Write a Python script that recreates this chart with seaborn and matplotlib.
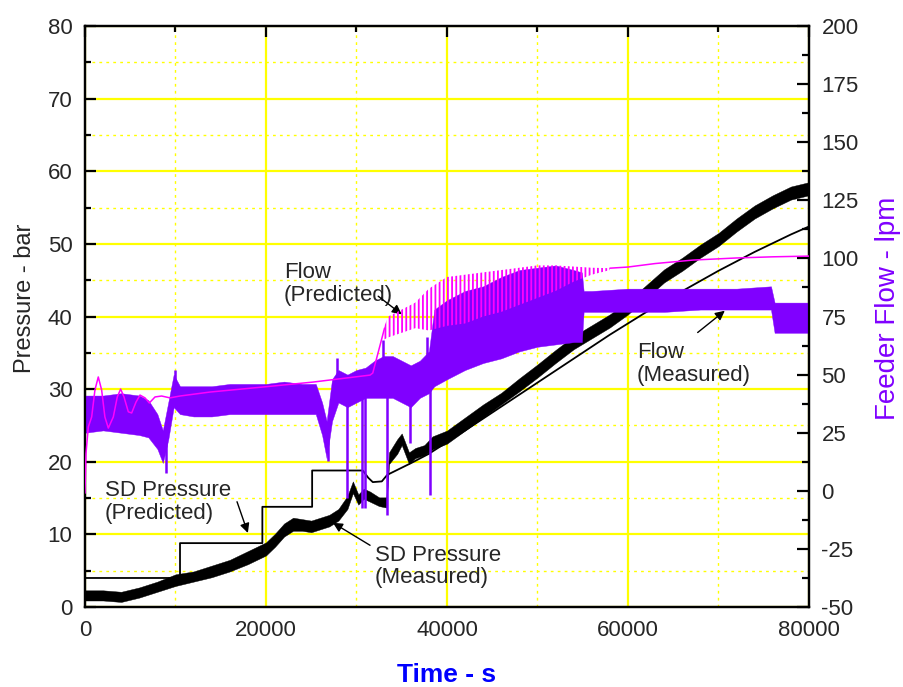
import numpy as np
import pandas as pd
import matplotlib
matplotlib.use("Agg")
import matplotlib.pyplot as plt
from matplotlib.ticker import MultipleLocator
import seaborn as sns

# ---------------- data ----------------
# Measured SD pressure (bar): noisy band, lower / upper envelope
mp_t = [0, 2000, 4000, 6000, 8000, 10000, 12000, 14000, 16000, 18000, 20000,
        21000, 22000, 23000, 24000, 25000, 26000, 27000, 28000, 29000, 29600,
        30200, 30800, 31500, 32500, 33300, 33600, 34500, 35000, 35800, 36500,
        37500, 38400, 40000, 42000, 44000, 46000, 48000, 50000, 52000, 54000,
        56000, 58000, 60000, 62000, 64000, 66000, 68000, 70000, 72000, 74000,
        76000, 78000, 80000]
mp_lo = [0.9, 0.9, 0.7, 1.3, 2.1, 2.9, 3.5, 4.1, 4.9, 5.9, 7.1,
         8.3, 9.7, 10.5, 10.5, 10.3, 10.7, 11.1, 11.9, 13.5, 15.7,
         14.1, 14.9, 14.5, 13.9, 13.7, 19.7, 21.1, 22.3, 19.7, 20.5,
         20.9, 21.7, 22.5, 24.3, 26.1, 27.9, 29.7, 31.6, 33.6, 35.5,
         37.0, 38.5, 40.3, 42.5, 44.7, 46.3, 48.1, 49.7, 51.7, 53.5,
         54.9, 56.1, 56.7]
mp_hi = [2.3, 2.3, 2.1, 2.7, 3.5, 4.5, 4.9, 5.7, 6.5, 7.7, 8.9,
         10.1, 11.5, 12.3, 12.1, 11.9, 12.3, 12.7, 13.5, 15.3, 17.3,
         15.5, 16.3, 15.9, 15.1, 15.1, 21.3, 23.1, 23.9, 21.3, 21.9,
         22.3, 23.5, 24.3, 26.1, 27.9, 29.5, 31.5, 33.4, 35.4, 37.3,
         38.8, 40.3, 42.1, 44.3, 46.5, 48.1, 49.9, 51.5, 53.5, 55.3,
         56.7, 57.9, 58.5]

# Predicted SD pressure (bar)
pp_t = [0, 10500, 10500, 19600, 19600, 25100, 25100, 30700, 31300, 31800,
        32800, 33400, 36000, 38000, 42000, 46000, 50000, 54000, 58000,
        62000, 66000, 70000, 74000, 78000, 80000]
pp_v = [4.0, 4.0, 8.8, 8.8, 13.8, 13.8, 18.8, 18.8, 17.8, 17.2,
        17.3, 18.2, 19.8, 21.1, 24.3, 27.6, 30.9, 34.2, 37.5,
        40.6, 43.5, 46.3, 48.9, 51.3, 52.4]

# Measured feeder flow (lpm): noisy band, lower / upper envelope
mf_t = [0, 2000, 4000, 6000, 7000, 8000, 8600, 9200, 9800, 10500, 12000,
        14000, 16000, 18000, 20000, 22000, 24000, 25500, 26200, 26700, 27300,
        28000, 29000, 30000, 31000, 32000, 33000, 34000, 35000, 36000, 37000,
        38000, 38600, 40000, 42000, 44000, 46000, 48000, 50000, 52000, 54000,
        54900, 55100, 56000, 60000, 64000, 68000, 72000, 75800, 76200, 80000]
mf_lo = [25, 26, 25, 24, 23, 18, 12, 22, 36, 33, 32,
         32, 33, 33, 33, 33, 33, 33, 24, 14, 30,
         38, 36, 38, 40, 40, 40, 40, 38, 36, 40,
         42, 45, 48, 52, 55, 57, 60, 62, 63, 64,
         64, 77, 77, 77, 77, 78, 78, 78, 68, 68]
mf_hi = [41, 41, 42, 41, 39, 33, 26, 38, 50, 45, 45,
         45, 46, 46, 46, 47, 46, 46, 38, 30, 48,
         52, 50, 52, 53, 56, 58, 58, 56, 54, 56,
         60, 78, 82, 86, 88, 92, 95, 96, 97, 95,
         94, 86, 86, 87, 87, 87, 87, 88, 81, 81]
# Measured flow spikes: time, base level, extreme value
sp_t = [8900, 9900, 26800, 27800, 28950, 30600, 30940, 32900, 33370, 35900, 37800, 38120]
sp_b = [26, 45, 25, 45, 42, 45, 45, 50, 48, 45, 50, 50]
sp_v = [7.7, 52, 13, 57, -3, -7.4, -7.4, 65, -10.4, 20.6, 66, -2.0]

# Predicted feeder flow (lpm): smooth parts
pf1_t = [0, 110, 370, 740, 1100, 1470, 1840, 2200, 2580, 3130, 3570, 3940,
         4310, 4790, 5160, 5640, 6080, 6630, 7110, 7740, 8470, 9390, 10500,
         13800, 20000, 25200, 31500, 31800, 33100]
pf1_v = [-1, 16, 27.5, 31.8, 43.4, 49, 43.4, 31.8, 27, 31.8, 40.4, 43.8,
         40.4, 34, 33.5, 38.2, 41.2, 40, 37.8, 40.4, 40.8, 40, 40.8,
         42.5, 44.8, 46.8, 49.8, 50.7, 70]
pf2_t = [58000, 60000, 63000, 67200, 72000, 76000, 80000]
pf2_v = [95.8, 96.3, 97.8, 99.3, 100.2, 100.7, 101]
# Predicted feeder flow: oscillating band
pb_t = [33000, 33500, 35000, 36500, 38000, 40000, 42000, 44000, 46000,
        48000, 50000, 52000, 54000, 56000, 58000]
pb_lo = [65, 66, 68, 70, 69, 71, 72, 75, 77, 80, 83, 86, 90, 93, 95]
pb_hi = [70, 75, 78, 81, 87, 92, 93, 94, 95, 96, 97, 97, 96.5, 96, 95.8]

# ---------------- style ----------------
sns.set_style("white")
plt.rcParams['font.family'] = ['Liberation Sans', 'DejaVu Sans']
plt.rcParams['hatch.linewidth'] = 1.3
plt.rcParams['axes.unicode_minus'] = False

BLACK = "#000000"
PURPLE = "#8000ff"
MAGENTA = "#ff00ff"
YELLOW = "#ffff00"

fig = plt.figure(figsize=(9.04, 6.87), dpi=100)
ax = fig.add_axes([0.094, 0.1164, 0.8009, 0.8457])
ax2 = ax.twinx()

# grid (left axis only)
ax.set_xlim(0, 80000)
ax.set_ylim(0, 80)
ax.xaxis.set_major_locator(MultipleLocator(20000))
ax.xaxis.set_minor_locator(MultipleLocator(10000))
ax.yaxis.set_major_locator(MultipleLocator(10))
ax.yaxis.set_minor_locator(MultipleLocator(5))
ax.grid(which='major', color=YELLOW, lw=1.6, ls='-')
ax.grid(which='minor', color=YELLOW, lw=1.0, ls=(0, (2, 3)))
ax.set_axisbelow(True)

# pressure
ax.fill_between(mp_t, mp_lo, mp_hi, color=BLACK, lw=0.3, zorder=3)
pp = pd.DataFrame({"t": pp_t, "p": pp_v})
sns.lineplot(data=pp, x="t", y="p", ax=ax, color=BLACK, lw=1.3,
             estimator=None, sort=False, zorder=4)

# flow
ax2.set_ylim(-50, 200)
ax2.yaxis.set_major_locator(MultipleLocator(25))
ax2.yaxis.set_minor_locator(MultipleLocator(12.5))
ax2.fill_between(mf_t, mf_lo, mf_hi, color=PURPLE, lw=0.3, zorder=2)
ax2.vlines(sp_t, sp_b, sp_v, color=PURPLE, lw=1.8, zorder=2)
pf1 = pd.DataFrame({"t": pf1_t, "f": pf1_v})
pf2 = pd.DataFrame({"t": pf2_t, "f": pf2_v})
sns.lineplot(data=pf1, x="t", y="f", ax=ax2, color=MAGENTA, lw=1.1,
             estimator=None, sort=False, zorder=3)
sns.lineplot(data=pf2, x="t", y="f", ax=ax2, color=MAGENTA, lw=1.1,
             estimator=None, sort=False, zorder=3)
ax2.fill_between(pb_t, pb_lo, pb_hi, facecolor='none', edgecolor=MAGENTA,
                 hatch='||||', lw=0, zorder=3)

# ticks and spines
for a in (ax, ax2):
    for s in a.spines.values():
        s.set_linewidth(1.6)
        s.set_color(BLACK)
ax.tick_params(which='both', direction='in', top=True, right=False,
               labelsize=16, pad=9, color=BLACK, width=1.6)
ax.tick_params(which='major', length=8)
ax.tick_params(which='minor', length=4)
ax2.tick_params(which='both', direction='in', left=False, right=True,
                labelsize=16, pad=9, color=BLACK, width=1.6)
ax2.tick_params(which='major', length=9)
ax2.tick_params(which='minor', length=5)
ax.set_xticks([0, 20000, 40000, 60000, 80000])
ax.set_xticklabels(["0", "20000", "40000", "60000", "80000"])

ax.set_xlabel("Time - s", fontsize=19, fontweight='bold', color="#0000ff", labelpad=16)
ax.set_ylabel("Pressure - bar", fontsize=17)
ax2.set_ylabel("Feeder Flow - lpm", fontsize=20, color=PURPLE)
ax.yaxis.set_label_coords(-0.068, 0.531)
ax2.yaxis.set_label_coords(1.0905, 0.514)

# annotations
arrow = dict(arrowstyle='-|>', color=BLACK, lw=1.0, mutation_scale=14, shrinkA=0, shrinkB=0)
ax.annotate("Flow\n(Predicted)", xy=(0, 0), xytext=(22000, 41.5),
            fontsize=16, ha='left', va='bottom', linespacing=1.1)
ax.annotate("", xy=(35000, 40.3), xytext=(32400, 42.8), arrowprops=arrow)
ax.annotate("SD Pressure\n(Predicted)", xy=(0, 0), xytext=(2200, 11.5),
            fontsize=16, ha='left', va='bottom', linespacing=1.1)
ax.annotate("", xy=(18000, 10.2), xytext=(16800, 14.5), arrowprops=arrow)
ax.annotate("SD Pressure\n(Measured)", xy=(0, 0), xytext=(32000, 2.6),
            fontsize=16, ha='left', va='bottom', linespacing=1.1)
ax.annotate("", xy=(27400, 11.6), xytext=(31500, 8.5), arrowprops=arrow)
ax.annotate("Flow\n(Measured)", xy=(0, 0), xytext=(61000, 30.5),
            fontsize=16, ha='left', va='bottom', linespacing=1.1)
ax.annotate("", xy=(70700, 40.8), xytext=(67700, 37.8), arrowprops=arrow)

fig.savefig("out.png", dpi=100)
